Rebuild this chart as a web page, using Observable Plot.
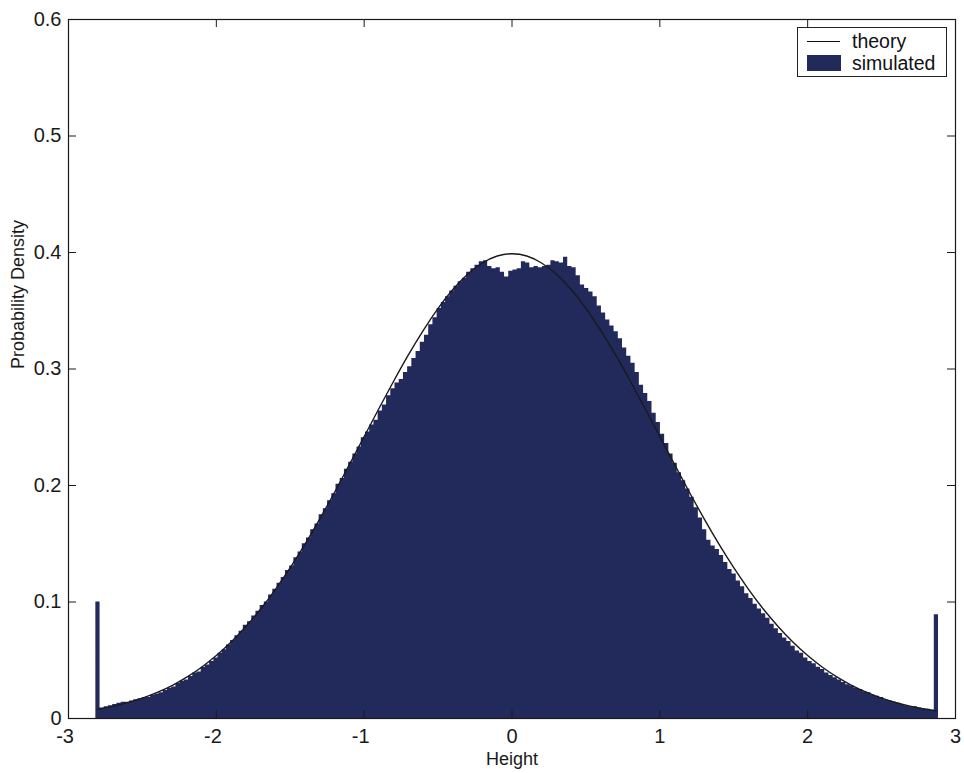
<!DOCTYPE html>
<html>
<head>
<meta charset="utf-8">
<script src="https://cdn.jsdelivr.net/npm/d3@7"></script>
<script src="https://cdn.jsdelivr.net/npm/@observablehq/plot@0.6"></script>
<style>
  body { margin: 0; background: #fff; }
  #fig { position: relative; width: 964px; height: 773px; font-family: "Liberation Sans", Arial, sans-serif; color: #111; }
  .legend { position: absolute; left: 797px; top: 27px; width: 150px; height: 50px; border: 1px solid #222; background: #fff; box-sizing: border-box; }
  .legend .line { position: absolute; left: 9px; top: 13px; width: 33px; height: 0; border-top: 1.4px solid #111; }
  .legend .swatch { position: absolute; left: 9px; top: 27px; width: 34px; height: 16px; }
  .legend .lab { position: absolute; left: 54px; font-size: 19.5px; line-height: 20px; }
</style>
</head>
<body>
<div id="fig"></div>
<script>
// Histogram of simulated heights: 200 equal bins starting at binStart
const binStart = -2.815;
const binWidth = 0.0285;
const density = [
  0.100, 0.009, 0.010, 0.011, 0.012, 0.013, 0.014, 0.014, 0.015, 0.016,
  0.017, 0.018, 0.018, 0.020, 0.021, 0.022, 0.024, 0.026, 0.027, 0.030,
  0.032, 0.033, 0.036, 0.039, 0.040, 0.044, 0.046, 0.049, 0.052, 0.056,
  0.059, 0.063, 0.067, 0.071, 0.075, 0.080, 0.083, 0.088, 0.092, 0.097,
  0.100, 0.106, 0.111, 0.116, 0.121, 0.127, 0.131, 0.138, 0.143, 0.150,
  0.155, 0.162, 0.167, 0.175, 0.180, 0.187, 0.193, 0.201, 0.206, 0.214,
  0.220, 0.227, 0.233, 0.241, 0.246, 0.252, 0.256, 0.264, 0.269, 0.277,
  0.283, 0.288, 0.291, 0.297, 0.302, 0.309, 0.315, 0.323, 0.329, 0.338,
  0.344, 0.352, 0.357, 0.362, 0.367, 0.371, 0.375, 0.378, 0.383, 0.386,
  0.389, 0.392, 0.393, 0.388, 0.386, 0.387, 0.383, 0.379, 0.384, 0.385,
  0.386, 0.392, 0.391, 0.387, 0.388, 0.387, 0.388, 0.389, 0.393, 0.392,
  0.391, 0.396, 0.388, 0.387, 0.380, 0.372, 0.369, 0.366, 0.362, 0.354,
  0.348, 0.342, 0.337, 0.332, 0.326, 0.318, 0.311, 0.305, 0.297, 0.286,
  0.279, 0.272, 0.262, 0.254, 0.244, 0.236, 0.227, 0.219, 0.211, 0.204,
  0.197, 0.190, 0.181, 0.172, 0.162, 0.153, 0.148, 0.145, 0.140, 0.134,
  0.128, 0.124, 0.118, 0.113, 0.107, 0.103, 0.098, 0.094, 0.090, 0.086,
  0.081, 0.077, 0.073, 0.069, 0.066, 0.062, 0.058, 0.056, 0.052, 0.049,
  0.047, 0.044, 0.042, 0.039, 0.037, 0.035, 0.033, 0.031, 0.029, 0.028,
  0.026, 0.025, 0.023, 0.022, 0.020, 0.019, 0.018, 0.016, 0.015, 0.014,
  0.013, 0.012, 0.011, 0.010, 0.010, 0.009, 0.008, 0.008, 0.007, 0.089
];

// Theoretical density (standard normal)
const theoryX = [-2.8, -2.7, -2.6, -2.5, -2.4, -2.3, -2.2, -2.1, -2.0, -1.9,
  -1.8, -1.7, -1.6, -1.5, -1.4, -1.3, -1.2, -1.1, -1.0, -0.9,
  -0.8, -0.7, -0.6, -0.5, -0.4, -0.3, -0.2, -0.1, 0.0, 0.1,
  0.2, 0.3, 0.4, 0.5, 0.6, 0.7, 0.8, 0.9, 1.0, 1.1,
  1.2, 1.3, 1.4, 1.5, 1.6, 1.7, 1.8, 1.9, 2.0, 2.1,
  2.2, 2.3, 2.4, 2.5, 2.6, 2.7, 2.8, 2.87];
const theoryY = [0.0079, 0.0104, 0.0136, 0.0175, 0.0224, 0.0283, 0.0355, 0.0440, 0.0540, 0.0656,
  0.0790, 0.0940, 0.1109, 0.1295, 0.1497, 0.1714, 0.1942, 0.2179, 0.2420, 0.2661,
  0.2897, 0.3123, 0.3332, 0.3521, 0.3683, 0.3814, 0.3910, 0.3970, 0.3989, 0.3970,
  0.3910, 0.3814, 0.3683, 0.3521, 0.3332, 0.3123, 0.2897, 0.2661, 0.2420, 0.2179,
  0.1942, 0.1714, 0.1497, 0.1295, 0.1109, 0.0940, 0.0790, 0.0656, 0.0540, 0.0440,
  0.0355, 0.0283, 0.0224, 0.0175, 0.0136, 0.0104, 0.0079, 0.0065];

const xTicks = [-3, -2, -1, 0, 1, 2, 3];
const yTicks = [0, 0.1, 0.2, 0.3, 0.4, 0.5, 0.6];

const barColor = "#222a5c";
const ink = "#1a1a1a";

// step outline of the histogram: left edge of each bin, closed at the last right edge
const steps = density.map((d, i) => ({x: binStart + i * binWidth, y: d}));
steps.push({x: binStart + density.length * binWidth, y: density[density.length - 1]});

const theory = theoryX.map((x, i) => ({x, y: theoryY[i]}));

const W = 964, H = 773;
const mL = 68, mR = 9, mT = 19, mB = 55;
const frameW = W - mL - mR, frameH = H - mT - mB;
const tickLen = 8;

const chart = Plot.plot({
  width: W,
  height: H,
  marginLeft: mL,
  marginRight: mR,
  marginTop: mT,
  marginBottom: mB,
  style: {fontFamily: "'Liberation Sans', Arial, sans-serif", fontSize: "20px", color: ink, background: "#fff"},
  x: {domain: [-3, 3], axis: null},
  y: {domain: [0, 0.6], axis: null},
  marks: [
    Plot.areaY(steps, {x: "x", y: "y", curve: "step-after", fill: barColor}),
    Plot.line(theory, {x: "x", y: "y", curve: "natural", stroke: ink, strokeWidth: 1.4}),
    // inward ticks on all four sides
    Plot.tickX(xTicks, {x: d => d, insetTop: frameH - tickLen, stroke: ink}),
    Plot.tickX(xTicks, {x: d => d, insetBottom: frameH - tickLen, stroke: ink}),
    Plot.tickY(yTicks, {y: d => d, insetRight: frameW - tickLen, stroke: ink}),
    Plot.tickY(yTicks, {y: d => d, insetLeft: frameW - tickLen, stroke: ink}),
    Plot.frame({stroke: ink, strokeWidth: 1.2}),
    // tick labels: the digit sits centred on its tick, a minus sign hangs to the left
    Plot.text(xTicks, {x: d => d, text: d => String(d), frameAnchor: "bottom", textAnchor: "end",
      lineAnchor: "top", dx: 5.5, dy: 10, fontSize: 20, fill: ink}),
    Plot.text(yTicks, {y: d => d, text: d => String(d), frameAnchor: "left", textAnchor: "end",
      lineAnchor: "middle", dx: -7, fontSize: 20, fill: ink}),
    Plot.text(["Height"], {frameAnchor: "bottom", lineAnchor: "middle", dy: 41, fontSize: 18, fill: ink}),
    Plot.text(["Probability Density"], {frameAnchor: "left", lineAnchor: "middle", dx: -50, rotate: -90, fontSize: 18, fill: ink})
  ]
});

const fig = document.getElementById("fig");
fig.appendChild(chart);

const legend = document.createElement("div");
legend.className = "legend";
legend.innerHTML =
  '<div class="line"></div><div class="lab" style="top:3px">theory</div>' +
  '<div class="swatch" style="background:' + barColor + '"></div><div class="lab" style="top:25px">simulated</div>';
fig.appendChild(legend);
</script>
</body>
</html>
